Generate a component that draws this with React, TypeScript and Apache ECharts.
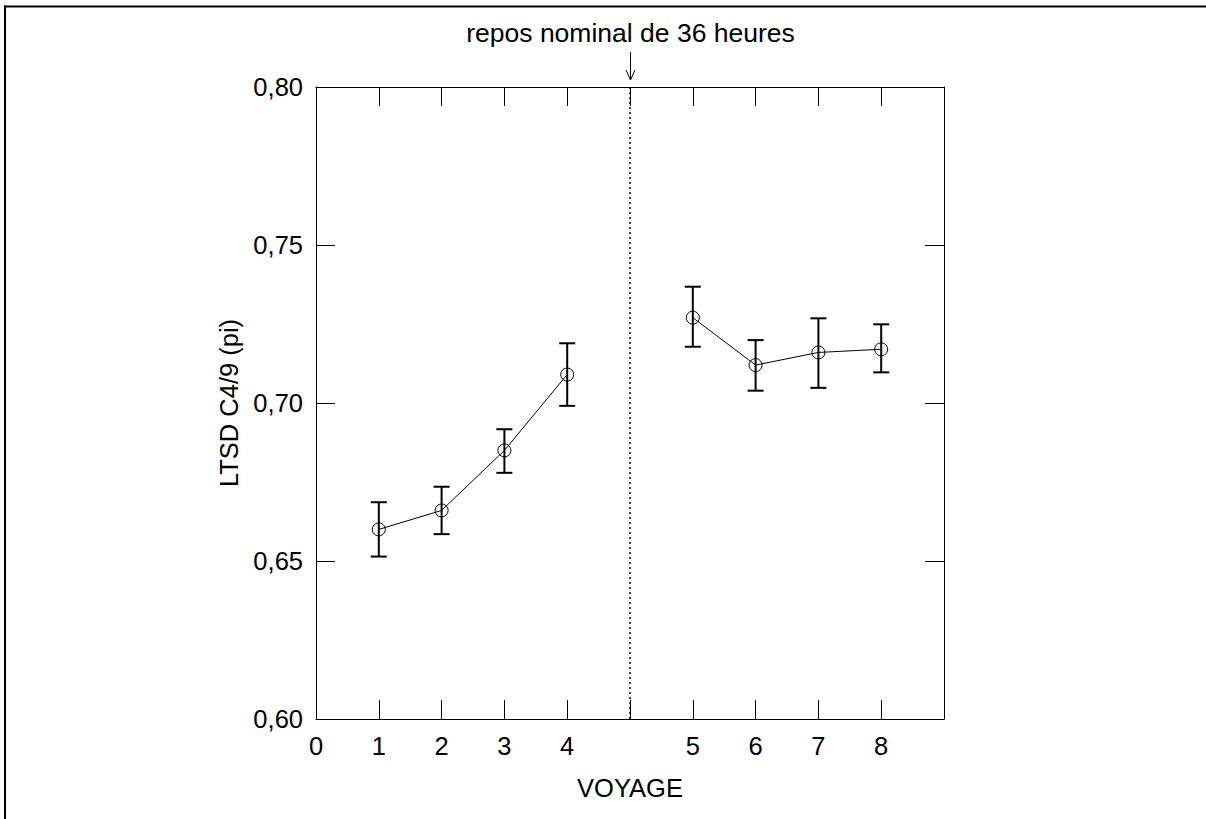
import React, { useEffect, useRef } from "react";
import * as echarts from "echarts";

// x slots: voyages 1-4, a gap (36 h rest), voyages 5-8
const categories = ["0", "1", "2", "3", "4", "", "5", "6", "7", "8", ""];
const means = [null, 0.66, 0.666, 0.685, 0.709, null, 0.727, 0.712, 0.716, 0.717, null];
const upper = [null, 0.6686, 0.6735, 0.6917, 0.7189, null, 0.7368, 0.7199, 0.7268, 0.7249, null];
const lower = [null, 0.6514, 0.6585, 0.6779, 0.6991, null, 0.7178, 0.7039, 0.7048, 0.7097, null];
const restIndex = 5;
const yTicks = { min: 0.6, max: 0.8, interval: 0.05 };
const titleText = "repos nominal de 36 heures";
const xName = "VOYAGE";
const yName = "LTSD C4/9 (pi)";

const FONT = "'Liberation Sans', Arial, sans-serif";
const FS = 25.5;

export default function App() {
  const ref = useRef<HTMLDivElement>(null);
  useEffect(() => {
    if (!ref.current) return;
    const chart = echarts.init(ref.current, undefined, { renderer: "svg" });
    const errData = categories
      .map((_, i) => (means[i] == null ? null : [i, lower[i], upper[i]]))
      .filter((d) => d != null);
    const tickStyle = { show: true, inside: true, length: 19, interval: 0, lineStyle: { color: "#000", width: 1 } };
    const axisLine = { show: true, lineStyle: { color: "#000", width: 1 } };
    chart.setOption({
      animation: false,
      backgroundColor: "#fff",
      grid: { left: 316, right: 262, top: 87, bottom: 100, containLabel: false },
      xAxis: [
        {
          type: "category",
          data: categories,
          boundaryGap: false,
          position: "bottom",
          axisLine,
          axisTick: tickStyle,
          axisLabel: { interval: 0, color: "#000", fontFamily: FONT, fontSize: FS, margin: 14 },
          splitLine: { show: false },
          name: xName,
          nameLocation: "middle",
          nameGap: 56,
          nameTextStyle: { color: "#000", fontFamily: FONT, fontSize: FS },
        },
        {
          type: "category",
          data: categories,
          boundaryGap: false,
          position: "top",
          axisLine,
          axisTick: tickStyle,
          axisLabel: { show: false },
          splitLine: { show: false },
        },
      ],
      yAxis: [
        {
          type: "value",
          min: yTicks.min,
          max: yTicks.max,
          interval: yTicks.interval,
          position: "left",
          axisLine,
          axisTick: { ...tickStyle, interval: undefined },
          axisLabel: {
            color: "#000",
            fontFamily: FONT,
            fontSize: FS,
            margin: 13,
            formatter: (v: number) => v.toFixed(2).replace(".", ","),
          },
          splitLine: { show: false },
          name: yName,
          nameLocation: "middle",
          nameRotate: 90,
          nameGap: 70,
          nameTextStyle: { color: "#000", fontFamily: FONT, fontSize: FS },
        },
        {
          type: "value",
          min: yTicks.min,
          max: yTicks.max,
          interval: yTicks.interval,
          position: "right",
          axisLine,
          axisTick: { ...tickStyle, interval: undefined },
          axisLabel: { show: false },
          splitLine: { show: false },
        },
      ],
      series: [
        {
          type: "line",
          data: means,
          connectNulls: false,
          symbol: "circle",
          symbolSize: 13,
          showSymbol: true,
          lineStyle: { color: "#000", width: 1 },
          itemStyle: { color: "rgba(0,0,0,0)", borderColor: "#000", borderWidth: 1 },
          z: 3,
          markLine: {
            silent: true,
            symbol: ["none", "none"],
            label: { show: false },
            lineStyle: { color: "#000", width: 1.5, type: [2, 3] },
            data: [{ xAxis: restIndex }],
          },
        },
        {
          type: "custom",
          data: errData,
          z: 2,
          renderItem: (params: any, api: any) => {
            const x = api.value(0);
            const lo = api.coord([x, api.value(1)]);
            const hi = api.coord([x, api.value(2)]);
            const hw = 8;
            const style = { stroke: "#000", lineWidth: 2 };
            return {
              type: "group",
              children: [
                { type: "line", shape: { x1: lo[0], y1: lo[1], x2: hi[0], y2: hi[1] }, style },
                { type: "line", shape: { x1: hi[0] - hw, y1: hi[1], x2: hi[0] + hw, y2: hi[1] }, style },
                { type: "line", shape: { x1: lo[0] - hw, y1: lo[1], x2: lo[0] + hw, y2: lo[1] }, style },
              ],
            };
          },
        },
      ],
      graphic: [
        { type: "line", shape: { x1: 4, y1: 6.5, x2: 1206, y2: 6.5 }, style: { stroke: "#000", lineWidth: 2 } },
        { type: "line", shape: { x1: 5, y1: 5.5, x2: 5, y2: 819 }, style: { stroke: "#000", lineWidth: 2 } },
        {
          type: "text",
          x: 630.5,
          y: 33,
          style: {
            text: titleText,
            fill: "#000",
            font: `26.5px ${FONT}`,
            textAlign: "center",
            textVerticalAlign: "middle",
          },
        },
        { type: "line", shape: { x1: 630.5, y1: 52, x2: 630.5, y2: 80 }, style: { stroke: "#000", lineWidth: 1 } },
        {
          type: "polyline",
          shape: { points: [[626, 70], [630.5, 80], [635, 70]] },
          style: { stroke: "#000", lineWidth: 1, fill: "none" },
        },
      ],
    });
    return () => chart.dispose();
  }, []);
  return (
    <div
      ref={ref}
      style={{ position: "fixed", left: 0, top: 0, width: 1206, height: 819, background: "#fff" }}
    />
  );
}
